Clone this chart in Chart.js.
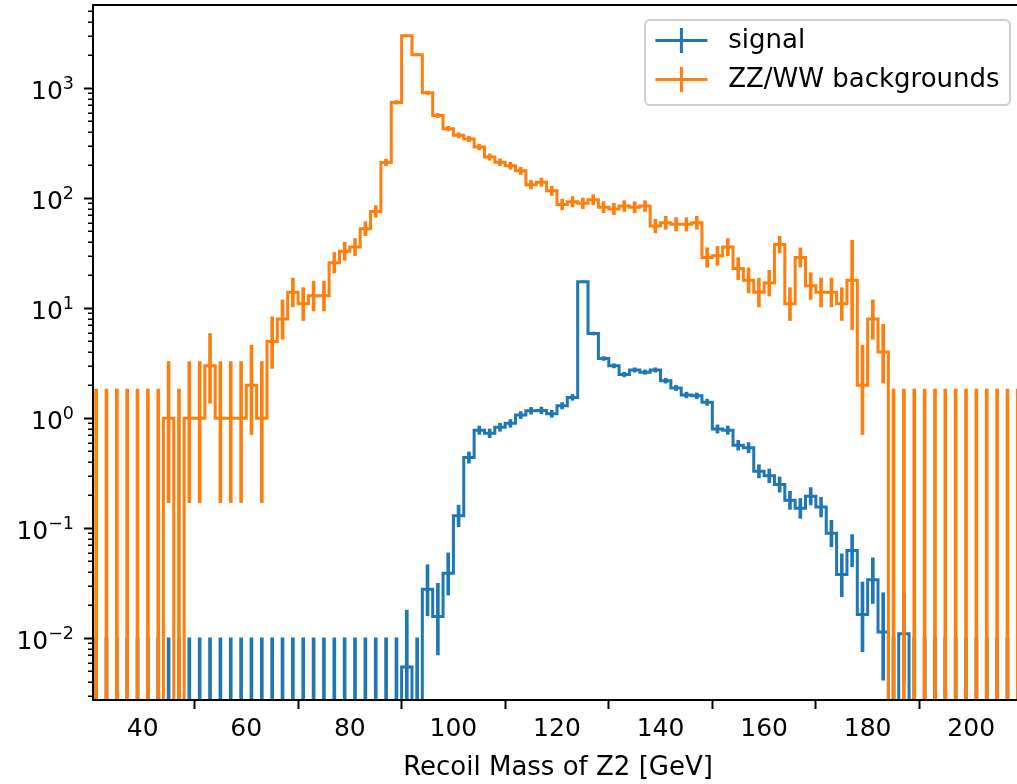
<!DOCTYPE html>
<html>
<head>
<meta charset="utf-8">
<script src="https://cdn.jsdelivr.net/npm/chart.js@4.4.1/dist/chart.umd.min.js"></script>
<style>
  html, body { margin: 0; padding: 0; background: #fff; overflow: hidden; }
  #wrap { width: 1017px; height: 784px; overflow: hidden; }
</style>
</head>
<body>
<div id="wrap"><canvas id="recoil" width="1023" height="784"></canvas></div>
<script>
// 2 GeV bins of the Z2 recoil mass
const binCentres = [
   31,  33,  35,  37,  39,  41,  43,  45,  47,  49,
   51,  53,  55,  57,  59,  61,  63,  65,  67,  69,
   71,  73,  75,  77,  79,  81,  83,  85,  87,  89,
   91,  93,  95,  97,  99, 101, 103, 105, 107, 109,
  111, 113, 115, 117, 119, 121, 123, 125, 127, 129,
  131, 133, 135, 137, 139, 141, 143, 145, 147, 149,
  151, 153, 155, 157, 159, 161, 163, 165, 167, 169,
  171, 173, 175, 177, 179, 181, 183, 185, 187, 189,
  191, 193, 195, 197, 199, 201, 203, 205, 207, 209
];

// weighted signal contents
const sigValues = [
  0, 0, 0, 0, 0, 0, 0, 0, 0, 0,
  0, 0, 0, 0, 0, 0, 0, 0, 0, 0,
  0, 0, 0, 0, 0, 0, 0, 0, 0, 0,
  0.0055, 0, 0.028, 0.0158, 0.039, 0.13, 0.44, 0.78, 0.73, 0.83,
  0.90, 1.07, 1.17, 1.18, 1.10, 1.30, 1.55, 17.4, 5.9, 3.5,
  3.0, 2.5, 2.75, 2.63, 2.75, 2.2, 1.89, 1.63, 1.60, 1.40,
  0.80, 0.78, 0.57, 0.54, 0.33, 0.30, 0.25, 0.18, 0.152, 0.196,
  0.156, 0.09, 0.038, 0.063, 0.0165, 0.034, 0.0114, 0, 0.011, 0,
  0, 0, 0, 0, 0, 0, 0, 0, 0, 0
];

// ZZ/WW background event counts
const bgValues = [
  0, 0, 0, 0, 0, 0, 0, 1, 0, 1,
  1, 3, 1, 1, 1, 2, 1, 5, 8, 14,
  11, 13, 13, 26, 33, 36, 53, 76, 212, 745,
  3000, 2020, 910, 565, 430, 374, 346, 293, 237, 213,
  198, 178, 133, 140, 117, 88, 93, 90, 97, 83,
  80, 85, 83, 85, 56, 60, 58, 58, 60, 29,
  30, 36, 23, 18, 14, 17, 38, 11, 29, 16,
  14, 14, 11, 18, 2, 8, 4, 0, 0, 0,
  0, 0, 0, 0, 0, 0, 0, 0, 0, 0
];

// per-event weights (for the Poisson error bars)
const SIG_WEIGHT = 0.0055;
const BG_WEIGHT = 1;
const bgHeavyBins = { 177: 9 };

const xTicks = [40, 60, 80, 100, 120, 140, 160, 180, 200];
const yTicks = [1e-2, 1e-1, 1, 10, 100, 1000];
const yTickExps = ['\u22122', '\u22121', '0', '1', '2', '3'];

const BLUE = '#1f77b4';
const ORANGE = '#ff7f0e';
const EMPTY = 1e-6; // empty bins fall below the log axis and get clipped
const FONT = '"DejaVu Sans", sans-serif';

// Garwood interval, Wilson-Hilferty approx
function poissonInterval(n) {
  if (n <= 0) return [0, 1.841];
  const lo = n * Math.pow(1 - 1 / (9 * n) - 1 / (3 * Math.sqrt(n)), 3);
  const m = n + 1;
  const hi = m * Math.pow(1 - 1 / (9 * m) + 1 / (3 * Math.sqrt(m)), 3);
  return [lo, hi];
}

function steps(values) {
  return binCentres.map((c, i) => ({ x: c, y: values[i] > 0 ? values[i] : EMPTY }));
}

function errorBars(values, weight, heavy) {
  return binCentres.map((c, i) => {
    const w = heavy[c] || weight;
    const [lo, hi] = poissonInterval(values[i] / w);
    // log axis can't take 0, so the open end goes below the axis
    return { x: c, y: [Math.max(lo * w, EMPTY), hi * w] };
  });
}

function stepSet(label, values, color, order) {
  return {
    type: 'line', label, data: steps(values), order,
    borderColor: color, borderWidth: 3, stepped: 'middle',
    pointRadius: 0, fill: false, clip: 0, inLegend: true
  };
}

function errSet(label, values, weight, heavy, color, order) {
  return {
    type: 'bar', label, data: errorBars(values, weight, heavy), order,
    backgroundColor: color, borderWidth: 0, barThickness: 3,
    grouped: false, clip: 0
  };
}

// axes box + log minor ticks, drawn over the histograms
const frame = {
  id: 'frame',
  afterDatasetsDraw(chart) {
    const { ctx, chartArea: a, scales: { y } } = chart;
    ctx.save();
    ctx.strokeStyle = '#000';
    ctx.lineWidth = 2;
    ctx.strokeRect(a.left, a.top, a.right - a.left, a.bottom - a.top);
    ctx.lineWidth = 1.5;
    ctx.beginPath();
    for (let e = -3; e <= 3; e++) {
      for (let m = 2; m <= 9; m++) {
        const v = m * Math.pow(10, e);
        if (v < y.min || v > y.max) continue;
        const py = Math.round(y.getPixelForValue(v)) + 0.25;
        ctx.moveTo(a.left - 5, py);
        ctx.lineTo(a.left, py);
      }
    }
    ctx.stroke();
    ctx.restore();
  }
};

// 10^n labels with a real superscript, right aligned next to the ticks
const powerLabels = {
  id: 'powerLabels',
  afterDraw(chart) {
    const { ctx, chartArea: a, scales: { y } } = chart;
    const fs = 25, sup = 0.7 * fs;
    ctx.save();
    ctx.fillStyle = '#000';
    ctx.textBaseline = 'alphabetic';
    ctx.textAlign = 'left';
    yTicks.forEach((v, i) => {
      const py = y.getPixelForValue(v);
      const base = py + 11;
      ctx.font = sup + 'px ' + FONT;
      const ew = ctx.measureText(yTickExps[i]).width;
      ctx.font = fs + 'px ' + FONT;
      const bw = ctx.measureText('10').width;
      const right = a.left - 19;
      ctx.fillText('10', right - ew - bw, base);
      ctx.font = sup + 'px ' + FONT;
      ctx.fillText(yTickExps[i], right - ew, base - 10.5);
    });
    ctx.restore();
  }
};

// matplotlib style legend in the upper right corner
const legendBox = {
  id: 'legendBox',
  afterDraw(chart) {
    const { ctx, chartArea: a } = chart;
    const items = chart.data.datasets.filter(d => d.inLegend)
      .sort((p, q) => q.order - p.order);
    const fs = 26;
    ctx.save();
    ctx.font = fs + 'px ' + FONT;
    const textW = Math.max(...items.map(it => ctx.measureText(it.label).width));
    const pad = 0.4 * fs, handle = 2 * fs, gap = 0.8 * fs, rowH = 1.5 * fs;
    const w = pad + handle + gap + textW + pad;
    const h = 85;
    const right = a.right - 0.5 * fs, left = right - w, top = a.top + 15;

    ctx.beginPath();
    ctx.roundRect(left, top, w, h, 5);
    ctx.fillStyle = 'rgba(255,255,255,0.8)';
    ctx.fill();
    ctx.strokeStyle = '#d0d0d0';
    ctx.lineWidth = 2;
    ctx.stroke();

    items.forEach((it, i) => {
      const cy = top + 20.5 + i * rowH;
      const x0 = left + pad;
      ctx.strokeStyle = it.borderColor;
      ctx.lineWidth = 3;
      ctx.beginPath();
      ctx.moveTo(x0, cy);
      ctx.lineTo(x0 + handle, cy);
      ctx.moveTo(x0 + handle / 2, cy - 12.5);
      ctx.lineTo(x0 + handle / 2, cy + 12.5);
      ctx.stroke();
      ctx.fillStyle = '#000';
      ctx.textBaseline = 'middle';
      ctx.fillText(it.label, x0 + handle + gap, cy + 1);
    });
    ctx.restore();
  }
};

Chart.defaults.font.family = FONT;
Chart.defaults.color = '#000';

new Chart(document.getElementById('recoil'), {
  type: 'line',
  data: {
    datasets: [
      stepSet('ZZ/WW backgrounds', bgValues, ORANGE, 0),
      errSet('ZZ/WW backgrounds err', bgValues, BG_WEIGHT, bgHeavyBins, ORANGE, 0),
      stepSet('signal', sigValues, BLUE, 1),
      errSet('signal err', sigValues, SIG_WEIGHT, {}, BLUE, 1)
    ]
  },
  options: {
    responsive: false,
    animation: false,
    events: [],
    layout: { padding: { top: 5, right: 0, bottom: 0, left: 0 } },
    plugins: { legend: { display: false }, tooltip: { enabled: false } },
    scales: {
      x: {
        type: 'linear',
        min: 30.4,
        max: 210,
        offset: false,
        afterFit: s => { s.height = 84; s.paddingLeft = 0; s.paddingRight = 0; },
        afterBuildTicks: s => { s.ticks = xTicks.map(v => ({ value: v })); },
        ticks: { autoSkip: false, maxRotation: 0, padding: 5, color: '#000', font: { size: 25 } },
        grid: { drawOnChartArea: false, tickLength: 9, tickWidth: 2, tickColor: '#000' },
        border: { display: false },
        title: {
          display: true, text: 'Recoil Mass of Z2 [GeV]', color: '#000',
          font: { size: 26 }, padding: { top: 0, bottom: 0 }
        }
      },
      y: {
        type: 'logarithmic',
        min: 0.00275,
        max: 5720,
        afterFit: s => { s.width = 93; s.paddingTop = 0; s.paddingBottom = 0; },
        afterBuildTicks: s => { s.ticks = yTicks.map(v => ({ value: v, major: true })); },
        ticks: { autoSkip: false, callback: () => '' },
        grid: { drawOnChartArea: false, tickLength: 9, tickWidth: 2, tickColor: '#000' },
        border: { display: false }
      }
    }
  },
  plugins: [frame, powerLabels, legendBox]
});
</script>
</body>
</html>
